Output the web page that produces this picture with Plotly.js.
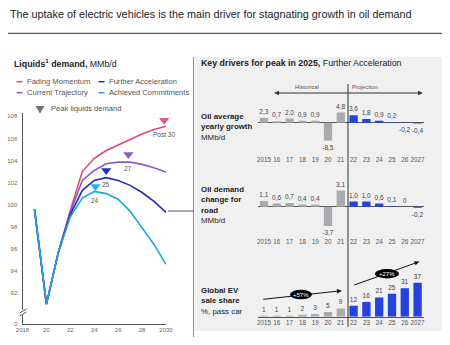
<!DOCTYPE html>
<html>
<head>
<meta charset="utf-8">
<script src="https://cdn.plot.ly/plotly-3.0.1.min.js"></script>
<style>html,body{margin:0;padding:0;background:#fff;}#chart{width:450px;height:345px;}</style>
</head>
<body>
<div id="chart"></div>
<script>
// ---------- data ----------
const years = [2019,2020,2021,2022,2023,2024,2025,2026,2027,2028,2029,2030];
const fadingMomentum      = [99.6,91.0,95.7,99.5,103.0,104.2,104.9,105.4,105.9,106.4,106.8,107.1];
const currentTrajectory   = [99.6,91.0,95.7,99.3,102.2,103.1,103.7,103.85,103.85,103.65,103.35,102.95];
const furtherAcceleration = [99.6,91.0,95.7,99.1,101.3,102.2,102.45,102.2,101.75,101.1,100.3,99.3];
const achievedCommitments = [99.6,91.0,95.7,98.9,100.6,101.2,101.0,100.5,99.4,97.9,96.4,94.6];
const seriesNames = ['Fading Momentum','Current Trajectory','Further Acceleration','Achieved Commitments'];
const peakYears  = [2029.85, 2026.85, 2025.0, 2024.1];
const peakValues = [107.65, 104.55, 103.1, 101.65];
const peakLabels = ['Post 30','27','25','24'];
const yTickVals = [89.25,92,94,96,98,100,102,104,106,108];
const yTickText = ['0','92','94','96','98','100','102','104','106','108'];
const xTickVals = [2018,2020,2022,2024,2026,2028,2030];
const xTickText = ['2018','20','22','24','26','28','2030'];

const barYears   = ['2015','16','17','18','19','20','21','22','23','24','25','26','2027'];
const oilGrowth  = [2.3,0.7,2.0,0.9,0.9,-8.5,4.8,3.6,1.8,0.9,0.2,-0.2,-0.4];
const roadDemand = [1.1,0.6,0.7,0.4,0.4,-3.7,3.1,1.0,1.0,0.6,0.1,0,-0.2];
const evShare    = [1,1,1,2,3,5,9,12,16,21,25,31,37];
const isProjection = [false,false,false,false,false,false,false,true,true,true,true,true,true];
const evGrowthLabels = ['+57%','+27%'];

// ---------- styles ----------
const FONT = 'Liberation Sans, Arial, sans-serif';
const cRed='#de4a6e', cPurple='#8a58cc', cBlue='#2030b8', cLight='#1ea6e2';
const lineColors=[cRed,cPurple,cBlue,cLight];
const triColors=['#e0587c','#8a5cc8','#2136c8','#1fb0ea'];
const GRAY='#a9abae', BLUE='#2543dc';
const W=450,H=345;
const px=x=>x/W, py=y=>1-y/H;

const fmt1 = v => v===0 ? '0' : v.toFixed(1).replace('.',',');
const barColors = isProjection.map(p=>p?BLUE:GRAY);

const seriesData=[fadingMomentum,currentTrajectory,furtherAcceleration,achievedCommitments];
const traces = seriesData.map((d,i)=>({
  type:'scatter',mode:'lines',x:years,y:d,name:seriesNames[i],
  line:{color:lineColors[i],width:1.6},xaxis:'x',yaxis:'y',hoverinfo:'skip'
}));
traces.push({type:'scatter',mode:'markers',x:peakYears,y:peakValues,xaxis:'x',yaxis:'y',
  marker:{symbol:'triangle-down',size:9,color:triColors},cliponaxis:false,hoverinfo:'skip'});

function barTrace(vals,fmt,xa,ya){
  return {type:'bar',x:barYears,y:vals,xaxis:xa,yaxis:ya,
    marker:{color:barColors,line:{width:0}},
    text:vals.map(fmt),textposition:'outside',textangle:0,constraintext:'none',
    textfont:{family:FONT,size:6.5,color:'#444'},cliponaxis:false,hoverinfo:'skip'};
}
traces.push(barTrace(oilGrowth,fmt1,'x2','y2'));
traces.push(barTrace(roadDemand,fmt1,'x3','y3'));
traces.push(barTrace(evShare,v=>String(v),'x4','y4'));

const barX = {type:'category',domain:[px(257.6),px(424)],showgrid:false,zeroline:false,tickangle:0,
  ticks:'',tickfont:{family:FONT,size:6.3,color:'#555'},fixedrange:true};

// arrowhead triangle (pixel coords): tip at (x,y) pointing from (fx,fy)
function head(x,y,fx,fy,color){
  const dx=x-fx, dy=y-fy, L=Math.hypot(dx,dy), ux=dx/L, uy=dy/L;
  const len=5, hw=2.2;
  const bx=x-ux*len, by=y-uy*len;
  const p1=[bx-uy*hw, by+ux*hw], p2=[bx+uy*hw, by-ux*hw];
  return {type:'path',xref:'paper',yref:'paper',
    path:`M ${px(x)} ${py(y)} L ${px(p1[0])} ${py(p1[1])} L ${px(p2[0])} ${py(p2[1])} Z`,
    fillcolor:color,line:{width:0}};
}

const shapes=[
  {type:'rect',xref:'paper',yref:'paper',x0:px(195),x1:px(442),y0:py(331),y1:py(57),fillcolor:'#f0f0f0',line:{width:0},layer:'below'},
  {type:'line',xref:'paper',yref:'paper',x0:px(8),x1:px(442),y0:py(33.3),y1:py(33.3),line:{color:'#333',width:1}},
  {type:'line',xref:'paper',yref:'paper',x0:px(193.5),x1:px(193.5),y0:py(57),y1:py(337),line:{color:'#888',width:1}},
  {type:'line',xref:'paper',yref:'paper',x0:px(168),x1:px(193.5),y0:py(211),y1:py(211),line:{color:'#555',width:1}},
  {type:'line',xref:'paper',yref:'paper',x0:px(348),x1:px(348),y0:py(84),y1:py(327),line:{color:'#333',width:1}},
  {type:'line',xref:'paper',yref:'paper',x0:px(277),x1:px(420),y0:py(93),y1:py(93),line:{color:'#333',width:1}},
  head(274,93,300,93,'#333'),
  head(423,93,400,93,'#333'),
  {type:'rect',xref:'paper',yref:'paper',x0:px(21),x1:px(25),y0:py(315),y1:py(309.5),fillcolor:'#fff',line:{width:0}},
  {type:'line',xref:'paper',yref:'paper',x0:px(19.5),x1:px(26.5),y0:py(313),y1:py(309),line:{color:'#555',width:1}},
  {type:'line',xref:'paper',yref:'paper',x0:px(19.5),x1:px(26.5),y0:py(316),y1:py(312),line:{color:'#555',width:1}},
  {type:'line',xref:'paper',yref:'paper',x0:px(16.5),x1:px(22.5),y0:py(81.7),y1:py(81.7),line:{color:cRed,width:1.5}},
  {type:'line',xref:'paper',yref:'paper',x0:px(98.5),x1:px(104.5),y0:py(81.7),y1:py(81.7),line:{color:cBlue,width:1.5}},
  {type:'line',xref:'paper',yref:'paper',x0:px(16.5),x1:px(22.5),y0:py(92.7),y1:py(92.7),line:{color:cPurple,width:1.5}},
  {type:'line',xref:'paper',yref:'paper',x0:px(98.5),x1:px(104.5),y0:py(92.7),y1:py(92.7),line:{color:cLight,width:1.5}},
  {type:'path',xref:'paper',yref:'paper',path:`M ${px(35.5)} ${py(106)} L ${px(44.5)} ${py(106)} L ${px(40)} ${py(113.5)} Z`,fillcolor:'#777',line:{width:0}},
  {type:'line',xref:'paper',yref:'paper',x0:px(263.3),x1:px(338),y0:py(299.3),y1:py(291.1),line:{color:'#111',width:1}},
  head(342,290.7,263.3,299.3,'#111'),
  {type:'line',xref:'paper',yref:'paper',x0:px(354.3),x1:px(415.5),y0:py(285),y1:py(263),line:{color:'#111',width:1}},
  head(419.5,261.6,354.3,285,'#111'),
  {type:'circle',xref:'paper',yref:'paper',x0:px(290),x1:px(312),y0:py(299.3),y1:py(289.8),fillcolor:'#000',line:{width:0}},
  {type:'circle',xref:'paper',yref:'paper',x0:px(375),x1:px(399),y0:py(278.5),y1:py(269),fillcolor:'#000',line:{width:0}}
];

function txt(x,y,text,o){return Object.assign({xref:'paper',yref:'paper',x:px(x),y:py(y),text:text,showarrow:false,
  xanchor:'left',yanchor:'middle',align:'left',font:{family:FONT,size:8,color:'#222'}},o||{});}

const annotations=[
  txt(8,14,'The uptake of electric vehicles is the main driver for stagnating growth in oil demand',{font:{family:FONT,size:10.8,color:'#222'}}),
  txt(11.5,63.3,'<b>Liquids<sup>1</sup> demand,</b> MMb/d',{font:{family:FONT,size:8.8,color:'#222'}}),
  txt(25,81.7,seriesNames[0],{font:{family:FONT,size:7.6,color:'#555'}}),
  txt(107,81.7,seriesNames[2],{font:{family:FONT,size:7.6,color:'#555'}}),
  txt(25,92.7,seriesNames[1],{font:{family:FONT,size:7.6,color:'#555'}}),
  txt(107,92.7,seriesNames[3],{font:{family:FONT,size:7.6,color:'#555'}}),
  txt(49,108.3,'Peak liquids demand',{font:{family:FONT,size:7.6,color:'#555'}}),
  txt(199,63.3,'<b>Key drivers for peak in 2025,</b> Further Acceleration',{font:{family:FONT,size:8.8,color:'#222'}}),
  txt(321,86.8,'Historical',{xanchor:'right',font:{family:FONT,size:5.8,color:'#555'}}),
  txt(349.5,86.8,'Projection',{font:{family:FONT,size:5.8,color:'#555'}}),
  txt(199,127.5,'<b>Oil average<br>yearly growth</b><br>MMb/d',{font:{family:FONT,size:7.9,color:'#222'}}),
  txt(199,205,'<b>Oil demand<br>change for<br>road</b><br>MMb/d',{font:{family:FONT,size:7.9,color:'#222'}}),
  txt(199,301.2,'<b>Global EV<br>sale share</b><br>%, pass car',{font:{family:FONT,size:7.9,color:'#222'}}),
  txt(301,294.5,evGrowthLabels[0],{xanchor:'center',font:{family:FONT,size:6,color:'#fff'}}),
  txt(387,273.8,evGrowthLabels[1],{xanchor:'center',font:{family:FONT,size:6,color:'#fff'}})
];
peakYears.forEach((yr,i)=>{
  annotations.push({xref:'x',yref:'y',x:yr,y:peakValues[i],yshift:-14.5,text:peakLabels[i],showarrow:false,
    font:{family:FONT,size:6.5,color:'#555'}});
});

const layout={
  width:W,height:H,margin:{l:0,r:0,t:0,b:0},paper_bgcolor:'#fff',plot_bgcolor:'rgba(0,0,0,0)',
  showlegend:false,font:{family:FONT},bargap:0.35,
  xaxis:{domain:[px(22.5),px(166)],range:[2018,2030],tickvals:xTickVals,ticktext:xTickText,
    showline:true,linecolor:'#555',linewidth:1,ticks:'',showgrid:false,zeroline:false,tickangle:0,
    tickfont:{family:FONT,size:6,color:'#666'},anchor:'y'},
  yaxis:{domain:[py(324),py(113)],range:[89.2,108.3],tickvals:yTickVals,ticktext:yTickText,
    showline:true,linecolor:'#555',linewidth:1,ticks:'',showgrid:false,zeroline:false,ticklabelstandoff:3,
    tickfont:{family:FONT,size:6,color:'#666'},anchor:'x'},
  xaxis2:Object.assign({},barX,{anchor:'y2'}),
  yaxis2:{domain:[py(155),py(111.15)],range:[-(155-122.7)/2.1,5.5],showticklabels:false,showgrid:false,
    zeroline:true,zerolinecolor:'#555',zerolinewidth:1,anchor:'x2',fixedrange:true},
  xaxis3:Object.assign({},barX,{anchor:'y3'}),
  yaxis3:{domain:[py(237),py(185)],range:[-(237-206.7)/5.2,(206.7-185)/5.2],showticklabels:false,showgrid:false,
    zeroline:true,zerolinecolor:'#555',zerolinewidth:1,anchor:'x3',fixedrange:true},
  xaxis4:Object.assign({},barX,{anchor:'y4',showline:true,linecolor:'#555',linewidth:1}),
  yaxis4:{domain:[py(316.7),py(270)],range:[0,46.7/0.92],showticklabels:false,showgrid:false,zeroline:false,
    anchor:'x4',fixedrange:true},
  shapes:shapes,annotations:annotations
};
Plotly.newPlot('chart',traces,layout,{staticPlot:true,displayModeBar:false});
</script>
</body>
</html>
